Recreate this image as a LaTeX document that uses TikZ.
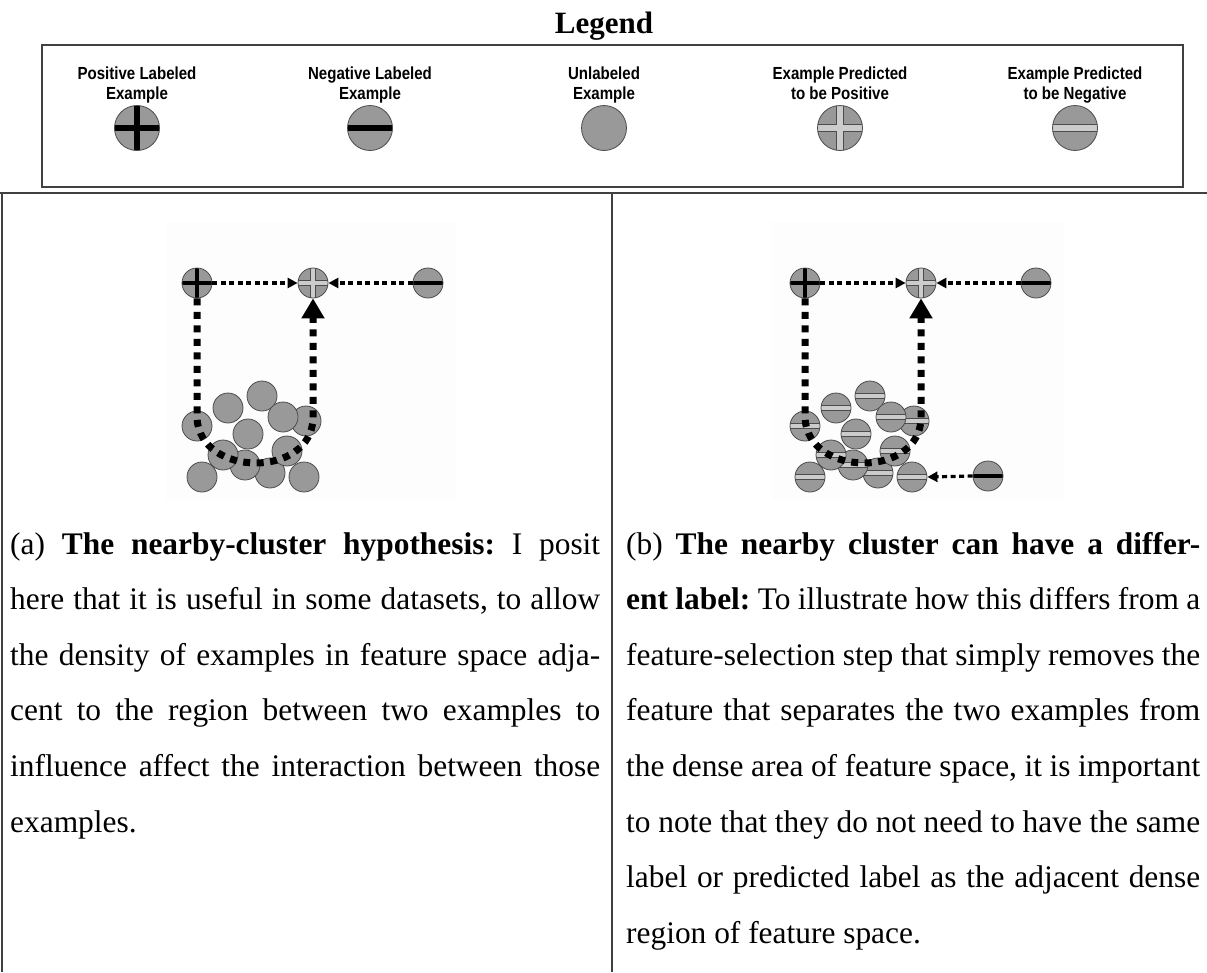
\documentclass[tikz,border=0pt]{standalone}
\usepackage{fontspec}
\setmainfont{Liberation Serif}
\newfontfamily\legendfont[FakeStretch=0.86]{Liberation Sans}
\usetikzlibrary{arrows.meta}

\definecolor{exfill}{gray}{0.60}
\definecolor{exedge}{gray}{0.30}
\definecolor{predbar}{gray}{0.80}
\definecolor{framegray}{gray}{0.25}
\definecolor{panelbg}{gray}{0.992}

\begin{document}
\frenchspacing
\begin{tikzpicture}[x=1pt,y=-1pt,
  example/.style={circle, inner sep=0pt, minimum size=#1, fill=exfill, draw=exedge, line width=0.8pt},
  posmark/.style={path picture={
    \begin{scope}[shift={(path picture bounding box.center)}]
      \fill[black] (-40,-#1) rectangle (40,#1);
      \fill[black] (-#1,-40) rectangle (#1,40);
    \end{scope}}},
  negmark/.style={path picture={
    \begin{scope}[shift={(path picture bounding box.center)}]
      \fill[black] (-40,-#1) rectangle (40,#1);
    \end{scope}}},
  predpos/.style={path picture={
    \begin{scope}[shift={(path picture bounding box.center)}]
      \filldraw[fill=predbar, draw=exedge, line width=0.7pt]
        (-40,-#1) -- (-#1,-#1) -- (-#1,-40) -- (#1,-40) -- (#1,-#1) -- (40,-#1)
        -- (40,#1) -- (#1,#1) -- (#1,40) -- (-#1,40) -- (-#1,#1) -- (-40,#1) -- cycle;
    \end{scope}}},
  predneg/.style={path picture={
    \begin{scope}[shift={(path picture bounding box.center)}]
      \filldraw[fill=predbar, draw=exedge, line width=0.7pt] (-40,-#1) rectangle (40,#1);
    \end{scope}}},
  legendtext/.style={anchor=north, inner sep=0pt, align=center,
    font=\legendfont\bfseries\fontsize{17.5}{19.5}\selectfont},
  capline/.style={anchor=base west, inner sep=0pt, font=\fontsize{31.4}{55}\selectfont},
  frame/.style={draw=framegray, line width=1.3pt},
  panelline/.style={draw=framegray, line width=1.1pt},
  thindots/.style={line width=3.2pt, dash pattern=on 5pt off 3.5pt,
    -{Triangle[length=10pt,width=10pt]}},
  thickdots/.style={line width=7pt, dash pattern=on 7pt off 6.5pt,
    -{Triangle[length=20pt,width=22pt]}},
]
\useasboundingbox (0,0) rectangle (1207,972);
\fill[white] (0,0) rectangle (1207,972);

% ---- legend ----
\node[font=\bfseries\fontsize{31}{36}\selectfont, anchor=base, inner sep=0pt] (title) at (604,33) {Legend};
\draw[frame] (42,45) rectangle (1183,187);

\node[legendtext] (lt1) at (137,67) {Positive Labeled\\Example};
\node[legendtext] (lt2) at (370,67) {Negative Labeled\\Example};
\node[legendtext] (lt3) at (604,67) {Unlabeled\\Example};
\node[legendtext] (lt4) at (840,67) {Example Predicted\\to be Positive};
\node[legendtext] (lt5) at (1075,67) {Example Predicted\\to be Negative};

\node[example=45, posmark=3.4] (l1) at (137,128) {};
\node[example=45, negmark=3.4] (l2) at (370,128) {};
\node[example=45] (l3) at (604,128) {};
\node[example=45, predpos=3.4] (l4) at (840,128) {};
\node[example=45, predneg=3.4] (l5) at (1075,128) {};

% ---- panel rules ----
\draw[panelline] (0,193) -- (1207,193);
\draw[panelline] (2,193) -- (2,972);
\draw[panelline] (612,193) -- (612,972);

% ---- panel (a) ----
\fill[panelbg] (166,222) rectangle (456,500);
\node[example=30, posmark=2.2] (apos) at (197,283) {};
\node[example=30, predpos=2.2] (apred) at (313,283) {};
\node[example=30, negmark=2.2] (aneg) at (428,283) {};

\node[example=30] (ac5) at (306,421) {};
\node[example=30] (ac1) at (228,408) {};
\node[example=30] (ac2) at (262,396) {};
\node[example=30] (ac3) at (197,426) {};
\node[example=30] (ac4) at (283,417) {};
\node[example=30] (ac6) at (248,434) {};
\node[example=30] (ac11) at (202,477) {};
\node[example=30] (ac12) at (304,477) {};
\node[example=30] (ac10) at (270,473) {};
\node[example=30] (ac9) at (245,465) {};
\node[example=30] (ac8) at (287,451) {};
\node[example=30] (ac7) at (223,455) {};

\draw[thindots] (apos.east) -- (apred.west);
\draw[thindots] (aneg.west) -- (apred.east);
\draw[thickdots] (apos.south) -- (197,418) .. controls (200,478) and (312,478) .. (313,418) -- (apred.south);

% ---- panel (b) ----
\fill[panelbg] (772,222) rectangle (1064,500);
\node[example=30, posmark=2.2] (bpos) at (805,283) {};
\node[example=30, predpos=2.2] (bpred) at (921,283) {};
\node[example=30, negmark=2.2] (bneg) at (1036,283) {};

\node[example=30, predneg=2.2] (bc5) at (914,421) {};
\node[example=30, predneg=2.2] (bc1) at (836,408) {};
\node[example=30, predneg=2.2] (bc2) at (870,396) {};
\node[example=30, predneg=2.2] (bc3) at (805,426) {};
\node[example=30, predneg=2.2] (bc4) at (891,417) {};
\node[example=30, predneg=2.2] (bc6) at (856,434) {};
\node[example=30, predneg=2.2] (bc11) at (810,477) {};
\node[example=30, predneg=2.2] (bc12) at (912,477) {};
\node[example=30, predneg=2.2] (bc10) at (878,473) {};
\node[example=30, predneg=2.2] (bc9) at (853,465) {};
\node[example=30, predneg=2.2] (bc8) at (895,451) {};
\node[example=30, predneg=2.2] (bc7) at (831,455) {};
\node[example=30, negmark=2.2] (bnegb) at (988,476) {};

\draw[thindots] (bpos.east) -- (bpred.west);
\draw[thindots] (bneg.west) -- (bpred.east);
\draw[thindots] (bnegb.west) -- (bc12.east);
\draw[thickdots] (bpos.south) -- (805,418) .. controls (808,478) and (920,478) .. (921,418) -- (bpred.south);

% ---- captions ----
\node[capline] (ca1) at (10,554) {\makebox[590pt][s]{(a) \textbf{The nearby-cluster hypothesis:} I posit}};
\node[capline] (ca2) at (10,609.6) {\makebox[590pt][s]{here that it is useful in some datasets, to allow}};
\node[capline] (ca3) at (10,665.2) {\makebox[590pt][s]{the density of examples in feature space adja-}};
\node[capline] (ca4) at (10,720.8) {\makebox[590pt][s]{cent to the region between two examples to}};
\node[capline] (ca5) at (10,776.4) {\makebox[590pt][s]{influence affect the interaction between those}};
\node[capline] (ca6) at (10,832) {examples.};

\node[capline] (cb1) at (626,554) {\makebox[574pt][s]{(b) \textbf{The nearby cluster can have a differ-}}};
\node[capline] (cb2) at (626,609.6) {\makebox[574pt][s]{\textbf{ent label:} To illustrate how this differs from a}};
\node[capline] (cb3) at (626,665.2) {\makebox[574pt][s]{feature-selection step that simply removes the}};
\node[capline] (cb4) at (626,720.8) {\makebox[574pt][s]{feature that separates the two examples from}};
\node[capline] (cb5) at (626,776.4) {\makebox[574pt][s]{the dense area of feature space, it is important}};
\node[capline] (cb6) at (626,832) {\makebox[574pt][s]{to note that they do not need to have the same}};
\node[capline] (cb7) at (626,887.6) {\makebox[574pt][s]{label or predicted label as the adjacent dense}};
\node[capline] (cb8) at (626,943.2) {region of feature space.};
\end{tikzpicture}
\end{document}
